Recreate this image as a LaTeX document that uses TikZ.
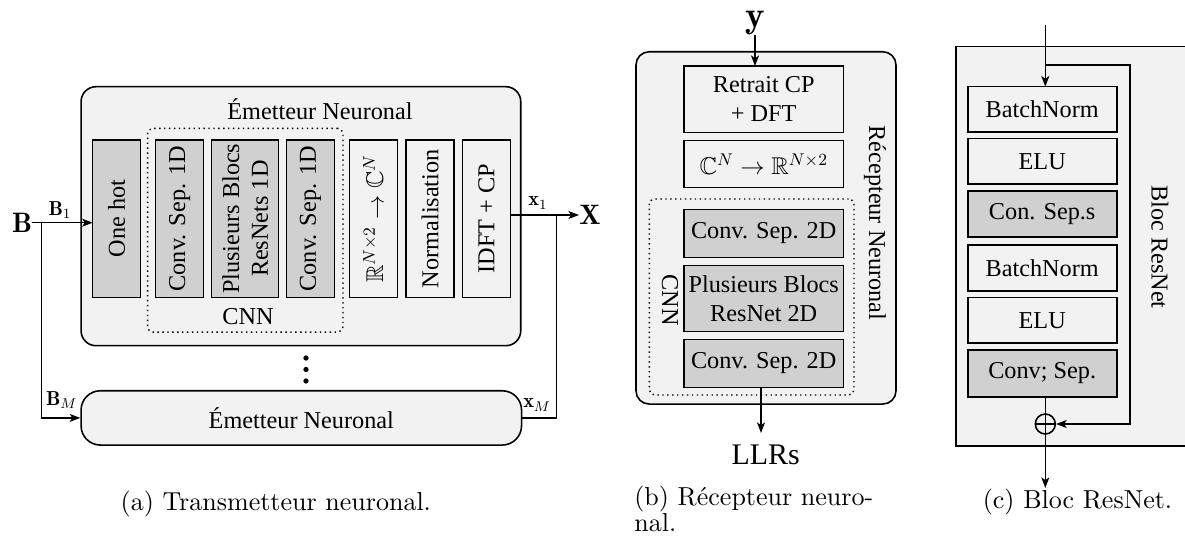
\RequirePackage{fix-cm}
\documentclass[tikz,border=0pt]{standalone}
\usepackage{fontspec}
\usepackage{amssymb}
\usetikzlibrary{arrows.meta,calc}
\newfontfamily\gar{Liberation Serif}
\newfontfamily\capf{lmroman10-regular.otf}
\definecolor{ltg}{HTML}{F2F2F2}
\definecolor{dkg}{HTML}{D0D0D0}
\begin{document}
\begin{tikzpicture}[x=0.2mm,y=-0.2mm,
  sz/.style 2 args={minimum width=#1*0.2mm,minimum height=#2*0.2mm},
  txt/.style={font=\gar\fontsize{13.8}{16.5}\selectfont},
  box/.style={txt,draw,line width=0.9pt,inner sep=1pt,outer sep=0pt,align=center},
  dk/.style={box,fill=dkg},
  lt/.style={box,fill=ltg},
  arr/.style={line width=0.9pt,-{Stealth[length=6pt,width=4.5pt,inset=1.5pt]}},
  ln/.style={line width=0.9pt},
  capt/.style={font=\capf\fontsize{14.8}{14.4}\selectfont,inner sep=0pt},
  mlab/.style={inner sep=0pt,font=\fontsize{11.5}{13}\selectfont}
]
\useasboundingbox (0,0) rectangle (1185,536);
\fill[white] (0,0) rectangle (1185,536);

% ---------------- (a) ----------------
\node (tx) [draw,line width=0.9pt,fill=ltg,rounded corners=8.5pt,sz={439.7}{259}] at (300.9,216.2) {};
\node (txtitle) [txt] at (320,109) {Émetteur Neuronal};
\node (cnnbox) [draw,dotted,line width=0.8pt,rounded corners=3pt,sz={195.3}{203.7}] at (245.3,230.2) {};
\node (cnna) [txt] at (248,317) {CNN};
\node (onehot) [dk,rotate=90,sz={157.3}{47.6}] at (116.5,218.7) {One hot};
\node (conv1) [dk,rotate=90,sz={157.3}{48}] at (179.7,218.7) {Conv. Sep. 1D};
\node (resn) [dk,rotate=90,sz={157.3}{67}] at (245.2,218.7) {Plusieurs Blocs\\ResNets 1D};
\node (conv2) [dk,rotate=90,sz={157.3}{47.6}] at (310.5,218.7) {Conv. Sep. 1D};
\node (r2c) [lt,rotate=90,sz={157.3}{48.4}] at (373.5,218.7) {$\mathbb{R}^{N\times 2}\rightarrow\mathbb{C}^N$};
\node (norm) [lt,rotate=90,sz={157.3}{48}] at (430,218.7) {Normalisation};
\node (idft) [lt,rotate=90,sz={157.3}{48.4}] at (486.5,218.7) {IDFT + CP};

\node (txM) [draw,line width=0.9pt,fill=ltg,rounded corners=11pt,sz={440.5}{54.3},txt] at (301.3,417.9) {Émetteur Neuronal};

\node (B) [inner sep=0pt,font=\fontsize{16}{19}\selectfont] at (22,222.7) {$\mathbf{B}$};
\coordinate (bsplit) at (41.7,222.7);
\draw[arr] (B.east) -- (B.east -| onehot.north);
\draw[arr] (bsplit) |- (txM.west);
\node (X) [inner sep=0pt,font=\fontsize{16}{19}\selectfont] at (590,215) {$\mathbf{X}$};
\coordinate (xsplit) at (556.7,215);
\draw[arr] (X.west -| idft.south) -- (X.west);
\draw[ln] (xsplit) |- (txM.east);

\node (b1) [mlab] at (60,210) {$\mathbf{B}_1$};
\node (x1) [mlab] at (538,203) {$\mathbf{x}_1$};
\node (bm) [mlab] at (61.7,400) {$\mathbf{B}_M$};
\node (xm) [mlab] at (537,405) {$\mathbf{x}_M$};

\fill (306,358) circle (1.5pt);
\fill (306,369.5) circle (1.5pt);
\fill (306,381) circle (1.5pt);

\node (capa) [capt,anchor=base] at (275.8,510) {(a) Transmetteur neuronal.};

% ---------------- (b) ----------------
\node (rx) [draw,line width=0.9pt,fill=ltg,rounded corners=7.5pt,sz={260}{352.3}] at (766,227.9) {};
\node (cnnb) [draw,dotted,line width=0.8pt,rounded corners=3pt,sz={204.7}{196}] at (751.65,297) {};
\node (retrait) [lt,sz={159.3}{66.3}] at (763.7,99.2) {Retrait CP\\+ DFT};
\node (c2r) [lt,sz={159.3}{47}] at (763.7,164.2) {$\mathbb{C}^N\rightarrow\mathbb{R}^{N\times 2}$};
\node (c2da) [dk,sz={159.3}{48}] at (763.7,233.3) {Conv. Sep. 2D};
\node (resb) [dk,sz={159.3}{66.4}] at (763.7,298.5) {Plusieurs Blocs\\ResNet 2D};
\node (c2db) [dk,sz={159.3}{48}] at (763.7,363.3) {Conv. Sep. 2D};
\node (rxtitle) [txt,rotate=-90] at (875,223) {Récepteur Neuronal};
\node (cnnbl) [txt,rotate=-90] at (670,300) {CNN};
\node (y) [inner sep=0pt,font=\fontsize{21}{23}\selectfont] at (755,22.5) {$\mathbf{y}$};
\draw[arr] (y.south) -- (y.south |- retrait.north);
\coordinate (llrin) at (761,433);
\draw[arr] (llrin |- c2db.south) -- (llrin);
\node (llrs) [txt,font=\gar\fontsize{17}{20}\selectfont] at (765.7,455) {LLRs};

\node (capb) [capt,anchor=west,align=left] at (634,509) {(b) Récepteur neuro-\\nal.};

% ---------------- (c) ----------------
\node (rb) [draw,line width=0.9pt,fill=ltg,sz={244.3}{399.3}] at (1077.85,246.35) {};
\node (bn1) [lt,sz={149}{45.3}] at (1042.2,109.3) {BatchNorm};
\node (elu1) [lt,sz={149}{45.3}] at (1042.2,161.3) {ELU};
\node (cs1) [dk,sz={149}{46}] at (1042.2,214) {Con. Sep.s};
\node (bn2) [lt,sz={149}{46}] at (1042.2,268) {BatchNorm};
\node (elu2) [lt,sz={149}{45.3}] at (1042.2,320.3) {ELU};
\node (cs2) [dk,sz={149}{47}] at (1042.2,373.5) {Conv; Sep.};
\node (sum) [draw,circle,line width=0.9pt,minimum size=4mm,inner sep=0pt] at (1045.3,424) {};
\coordinate (rin) at (1045.3,25);
\coordinate (rsplit) at (1045.3,65);
\coordinate (skip) at (1130,65);
\coordinate (rout) at (1045.3,488);
\draw[arr] (rin) -- (rin |- bn1.north);
\draw[arr] (rsplit) -- (skip) |- (sum.east);
\draw[ln] (rin |- cs2.south) -- (sum.north);
\draw[ln] (sum.north) -- (sum.south);
\draw[ln] (sum.west) -- (sum.east);
\draw[arr] (sum.south) -- (rout);
\node (rbtitle) [txt,rotate=-90] at (1160,247) {Bloc ResNet};

\node (capc) [capt,anchor=base] at (1077.5,508) {(c) Bloc ResNet.};
\end{tikzpicture}
\end{document}
